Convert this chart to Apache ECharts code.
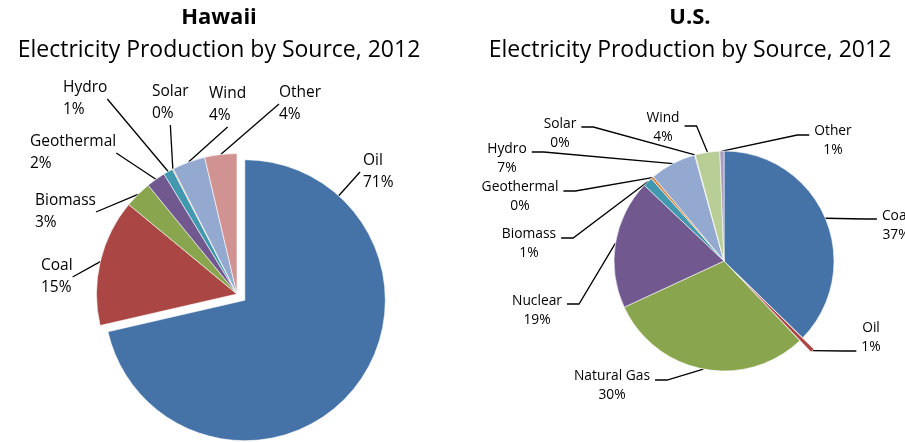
<!DOCTYPE html>
<html>
<head>
<meta charset="utf-8">
<script src="https://cdn.jsdelivr.net/npm/echarts@6/dist/echarts.min.js"></script>
<style>
  html, body { margin: 0; padding: 0; background: #ffffff; }
  #chart { width: 905px; height: 442px; }
</style>
</head>
<body>
<div id="chart"></div>
<script>
// Electricity production shares (percent of total), 2012
const hawaiiSources = ['Oil', 'Coal', 'Biomass', 'Geothermal', 'Hydro', 'Solar', 'Wind', 'Other'];
const hawaiiShares  = [71.4, 14.6, 3.1, 2.2, 1.1, 0.1, 3.8, 3.7];

const usSources = ['Coal', 'Oil', 'Natural Gas', 'Nuclear', 'Biomass', 'Geothermal', 'Hydro', 'Solar', 'Wind', 'Other'];
const usShares  = [37.3, 0.6, 30.2, 19.0, 1.4, 0.4, 6.8, 0.1, 3.6, 0.6];

const chartTitles = ['Hawaii', 'U.S.'];
const chartSubtitle = 'Electricity Production by Source, 2012';

// Slice pulled out of each pie
const hawaiiExploded = 'Oil';
const usExploded = 'Oil';

const palette = ['#4572A7', '#AA4643', '#89A54E', '#71588F', '#4198AF',
                 '#DB843D', '#93A9CF', '#D19392', '#B9CD96', '#A99BBD'];
const FONT = '"Open Sans"';

// Pie geometry
const hawaiiPie = { center: [237, 294], radius: 140.5, offset: 10 };
const usPie     = { center: [724, 261], radius: 110,   offset: 16 };

// Label placement, Hawaii: [left x, top y]
const hawaiiLabelPos = [
  [363, 150], [41, 255], [35, 190], [30, 131],
  [63, 77], [152, 81], [209, 83], [279, 82]
];
// Label placement, U.S.: [centre x, top y, leader y]
const usLabelPos = [
  [896, 206, 219], [871, 318, 351], [612, 366, 380], [537, 291, 304],
  [529, 224, 238], [520, 177, 191], [507, 139, 152], [560, 114, 127],
  [663, 108, 126], [833, 121, 135]
];

// Shift of an exploded slice along its middle angle (pie starts at 12 o'clock, clockwise)
function explodeShift(values, idx, offset) {
  const total = values.reduce((a, b) => a + b, 0);
  let before = 0;
  for (let i = 0; i < idx; i++) before += values[i];
  const mid = (before + values[idx] / 2) / total * 2 * Math.PI;
  return [offset * Math.sin(mid), -offset * Math.cos(mid)];
}

const hawaiiIdx = hawaiiSources.indexOf(hawaiiExploded);
const usIdx = usSources.indexOf(usExploded);
const hawaiiShift = explodeShift(hawaiiShares, hawaiiIdx, hawaiiPie.offset);
const usShift = explodeShift(usShares, usIdx, usPie.offset);

const HIDDEN = { color: 'rgba(0,0,0,0)', borderWidth: 0 };

// Main pie: every slice except the exploded one
function mainItems(names, values, explodedIdx) {
  return names.map((n, i) => ({
    name: n, value: values[i],
    itemStyle: i === explodedIdx ? HIDDEN : { color: palette[i] }
  }));
}
// Offset pie: only the exploded slice is painted
function explodedItems(names, values, explodedIdx) {
  return names.map((n, i) => ({
    name: n, value: values[i],
    itemStyle: i === explodedIdx ? { color: palette[i] } : HIDDEN
  }));
}

function labelText(p) {
  return p.name + '\n' + Math.round(p.percent) + '%';
}

function hawaiiLayout(params) {
  const p = hawaiiLabelPos[params.dataIndex];
  const out = { x: p[0], y: p[1], align: 'left', verticalAlign: 'top' };
  if (params.dataIndex === hawaiiIdx) {
    // leader from the pulled-out arc toward the label's left middle
    const cx = hawaiiPie.center[0] + hawaiiShift[0];
    const cy = hawaiiPie.center[1] + hawaiiShift[1];
    const end = [p[0] - 3, p[1] + params.labelRect.height / 2];
    const dx = end[0] - cx, dy = end[1] - cy;
    const d = Math.sqrt(dx * dx + dy * dy);
    const r = hawaiiPie.radius;
    out.labelLinePoints = [[cx + dx / d * r, cy + dy / d * r], end, end];
  }
  return out;
}

function usLayout(params) {
  const p = usLabelPos[params.dataIndex];
  const w = params.labelRect.width;
  let anchor = params.labelLinePoints[0];
  if (params.dataIndex === usIdx) anchor = [anchor[0] + usShift[0], anchor[1] + usShift[1]];
  const onLeft = p[0] < anchor[0];
  const sideX = onLeft ? p[0] + w / 2 + 5 : p[0] - w / 2 - 5;
  const elbowX = onLeft ? sideX + 12 : sideX - 12;
  return {
    x: p[0], y: p[1], align: 'center', verticalAlign: 'top',
    labelLinePoints: [anchor, [elbowX, p[2]], [sideX, p[2]]]
  };
}

const baseSeries = {
  type: 'pie',
  startAngle: 90,
  clockwise: true,
  avoidLabelOverlap: false,
  animation: false,
  silent: true,
  itemStyle: { borderColor: '#ffffff', borderWidth: 0.6 },
  emphasis: { disabled: true }
};

const titleStyle = { fontFamily: FONT, fontSize: 22, fontWeight: 'bold', color: '#000' };
const subStyle = { fontFamily: FONT, fontSize: 23, color: '#000' };

const option = {
  backgroundColor: '#ffffff',
  title: [
    { text: chartTitles[0], subtext: chartSubtitle, left: 214, top: 2, textAlign: 'center',
      itemGap: 10, textStyle: titleStyle, subtextStyle: subStyle },
    { text: chartTitles[1], subtext: chartSubtitle, left: 685, top: 2, textAlign: 'center',
      itemGap: 10, textStyle: titleStyle, subtextStyle: subStyle }
  ],
  series: [
    Object.assign({}, baseSeries, {
      name: chartTitles[0],
      center: hawaiiPie.center,
      radius: hawaiiPie.radius,
      data: mainItems(hawaiiSources, hawaiiShares, hawaiiIdx),
      label: { show: true, position: 'outside', formatter: labelText,
               fontFamily: FONT, fontSize: 15.5, lineHeight: 22, color: '#000' },
      labelLine: { show: true, length: 10, length2: 0, smooth: false,
                   lineStyle: { color: '#000000', width: 1.3 } },
      labelLayout: hawaiiLayout
    }),
    Object.assign({}, baseSeries, {
      name: chartTitles[0] + ' pulled',
      center: [hawaiiPie.center[0] + hawaiiShift[0], hawaiiPie.center[1] + hawaiiShift[1]],
      radius: hawaiiPie.radius,
      data: explodedItems(hawaiiSources, hawaiiShares, hawaiiIdx),
      label: { show: false },
      labelLine: { show: false }
    }),
    Object.assign({}, baseSeries, {
      name: chartTitles[1],
      center: usPie.center,
      radius: usPie.radius,
      data: mainItems(usSources, usShares, usIdx),
      label: { show: true, position: 'outside', formatter: labelText,
               fontFamily: FONT, fontSize: 13.8, lineHeight: 19.5, color: '#000' },
      labelLine: { show: true, length: 10, length2: 10, smooth: false,
                   lineStyle: { color: '#000000', width: 1.3 } },
      labelLayout: usLayout
    }),
    Object.assign({}, baseSeries, {
      name: chartTitles[1] + ' pulled',
      center: [usPie.center[0] + usShift[0], usPie.center[1] + usShift[1]],
      radius: usPie.radius,
      data: explodedItems(usSources, usShares, usIdx),
      label: { show: false },
      labelLine: { show: false }
    })
  ]
};

const chart = echarts.init(document.getElementById('chart'), null, { renderer: 'canvas' });
chart.setOption(option);
</script>
</body>
</html>
